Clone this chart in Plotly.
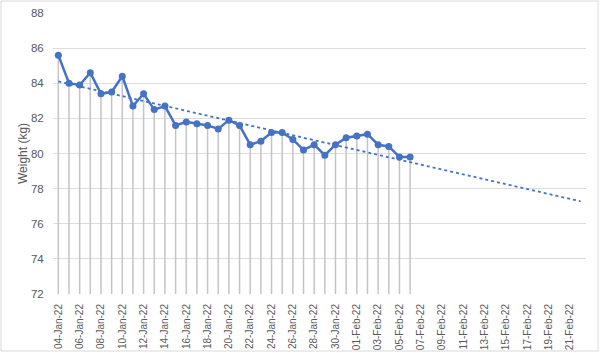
import numpy as np
import pandas as pd
import plotly.graph_objects as go

dates = pd.date_range("2022-01-04", "2022-02-06", freq="D")
weights = [85.6, 84.0, 83.9, 84.6, 83.4, 83.5, 84.4, 82.7, 83.4, 82.5,
           82.7, 81.6, 81.8, 81.7, 81.6, 81.4, 81.9, 81.6, 80.5, 80.7,
           81.2, 81.2, 80.8, 80.2, 80.5, 79.9, 80.5, 80.9, 81.0, 81.1,
           80.5, 80.4, 79.8, 79.8]
y_title = "Weight (kg)"
y_min, y_max = 72, 88
forecast_days = 16

# linear trendline (least squares) with forward forecast
t = np.arange(len(weights))
slope, intercept = np.polyfit(t, weights, 1)
t_tr = np.array([0, len(weights) - 1 + forecast_days])
trend_dates = [dates[0] + pd.Timedelta(days=int(d)) for d in t_tr]
trend_vals = intercept + slope * t_tr

# drop lines
dx, dy = [], []
for d, w in zip(dates, weights):
    dx += [d, d, None]
    dy += [y_min, w, None]

fig = go.Figure()
fig.add_trace(go.Scatter(x=dx, y=dy, mode="lines",
                         line=dict(color="#C4C4C4", width=1.5),
                         hoverinfo="skip", showlegend=False))
fig.add_trace(go.Scatter(x=dates, y=weights, mode="lines+markers",
                         line=dict(color="#4472C4", width=2.5),
                         marker=dict(color="#4472C4", size=7),
                         showlegend=False))
fig.add_trace(go.Scatter(x=trend_dates, y=trend_vals, mode="lines",
                         line=dict(color="#4472C4", width=1.8, dash="dot"),
                         showlegend=False))

W, H = 600, 353
ml, mr, mt, mb = 53, 14, 13, 59
pw, ph = W - ml - mr, H - mt - mb

x_start = dates[0] - pd.Timedelta(hours=12)
x_end = trend_dates[1] + pd.Timedelta(hours=12)

font = "Liberation Sans"
fig.update_layout(
    width=W, height=H,
    margin=dict(l=ml, r=mr, t=mt, b=mb),
    paper_bgcolor="white", plot_bgcolor="white",
    font=dict(family=font, color="#595959", size=11),
    xaxis=dict(range=[x_start, x_end], type="date", automargin=False,
               tick0="2022-01-04", dtick=2 * 86400000,
               tickformat="%d-%b-%y", tickangle=-90,
               showgrid=False, zeroline=False, showline=False,
               ticks="outside", ticklen=5, tickcolor="rgba(0,0,0,0)",
               tickfont=dict(size=10, color="#595959")),
    yaxis=dict(range=[y_min, y_max], dtick=2, automargin=False,
               showgrid=True, gridcolor="#DCDCDC", gridwidth=1,
               zeroline=False, showline=False,
               ticks="outside", ticklen=6, tickcolor="rgba(0,0,0,0)",
               title=dict(text=y_title, font=dict(size=12, color="#595959"), standoff=0),
               tickfont=dict(size=11.5, color="#595959")),
    shapes=[dict(type="rect", xref="paper", yref="paper",
                 x0=(1 - ml) / pw, x1=(W - 2 - ml) / pw,
                 y0=(H - mb - (H - 2)) / ph, y1=(H - mb - 1) / ph,
                 line=dict(color="#D9D9D9", width=1), layer="below")],
)

fig.write_html("out.html")
